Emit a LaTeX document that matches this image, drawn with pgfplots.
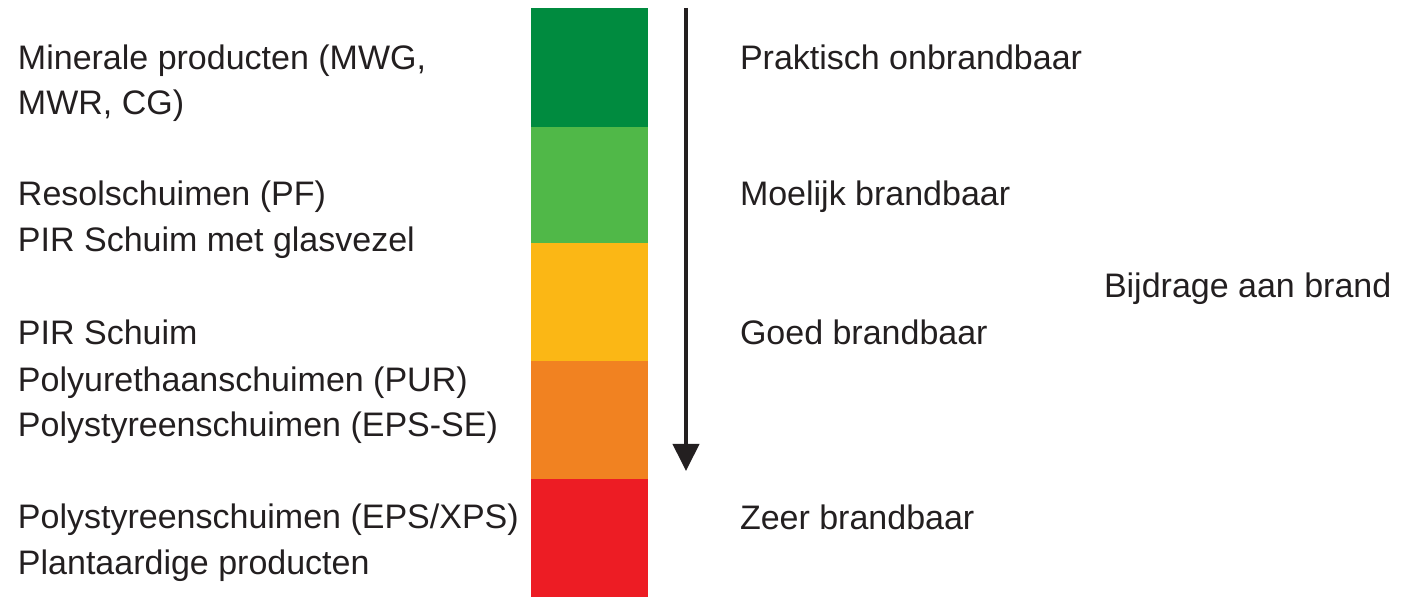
\documentclass[border=0pt]{standalone}
\usepackage{pgfplots}
\pgfplotsset{compat=1.18}
\usetikzlibrary{arrows.meta}
\usepackage{fontspec}
\setmainfont{Liberation Sans}

\definecolor{c1}{RGB}{0,139,63}
\definecolor{c2}{RGB}{80,184,72}
\definecolor{c3}{RGB}{251,183,21}
\definecolor{c4}{RGB}{241,130,33}
\definecolor{c5}{RGB}{237,28,36}
\definecolor{txt}{RGB}{35,31,32}
\tikzset{lbl/.style={inner sep=0pt, outer sep=0pt, anchor=base west, font=\fontsize{17}{20}\selectfont, text=txt}}

\begin{document}
\begin{tikzpicture}
\begin{axis}[
	x=0.5pt, y=0.5pt,
	xmin=0, xmax=1415, ymin=0, ymax=597,
	y dir=reverse,
	hide axis, clip=false,
]
% invisible frame so the page keeps the full canvas size
\addplot [draw=none] coordinates {(0,0) (1415,597)};

% colour scale, top (least) to bottom (most combustible)
\addplot [fill=c1, draw=none] coordinates {(531,8) (648,8) (648,127) (531,127)} -- cycle;
\addplot [fill=c2, draw=none] coordinates {(531,127) (648,127) (648,243) (531,243)} -- cycle;
\addplot [fill=c3, draw=none] coordinates {(531,243) (648,243) (648,361) (531,361)} -- cycle;
\addplot [fill=c4, draw=none] coordinates {(531,361) (648,361) (648,479) (531,479)} -- cycle;
\addplot [fill=c5, draw=none] coordinates {(531,479) (648,479) (648,597) (531,597)} -- cycle;

% arrow
\addplot [txt, line width=2pt, -{Triangle[width=13pt,length=13.5pt]}] coordinates {(686,8) (686,471)};

% left labels
\node[lbl] at (axis cs:18,70) {Minerale producten (MWG,};
\node[lbl] at (axis cs:18,115) {MWR, CG)};
\node[lbl] at (axis cs:18,206) {Resolschuimen (PF)};
\node[lbl] at (axis cs:18,252) {PIR Schuim met glasvezel};
\node[lbl] at (axis cs:18,345) {PIR Schuim};
\node[lbl] at (axis cs:18,392) {Polyurethaanschuimen (PUR)};
\node[lbl] at (axis cs:18,437) {Polystyreenschuimen (EPS-SE)};
\node[lbl] at (axis cs:18,529) {Polystyreenschuimen (EPS/XPS)};
\node[lbl] at (axis cs:18,575) {Plantaardige producten};

% right labels
\node[lbl] at (axis cs:740,70) {Praktisch onbrandbaar};
\node[lbl] at (axis cs:740,206) {Moelijk brandbaar};
\node[lbl] at (axis cs:740,345) {Goed brandbaar};
\node[lbl] at (axis cs:740,530) {Zeer brandbaar};
\node[lbl] at (axis cs:1104,298) {Bijdrage aan brand};
\end{axis}
\end{tikzpicture}
\end{document}
